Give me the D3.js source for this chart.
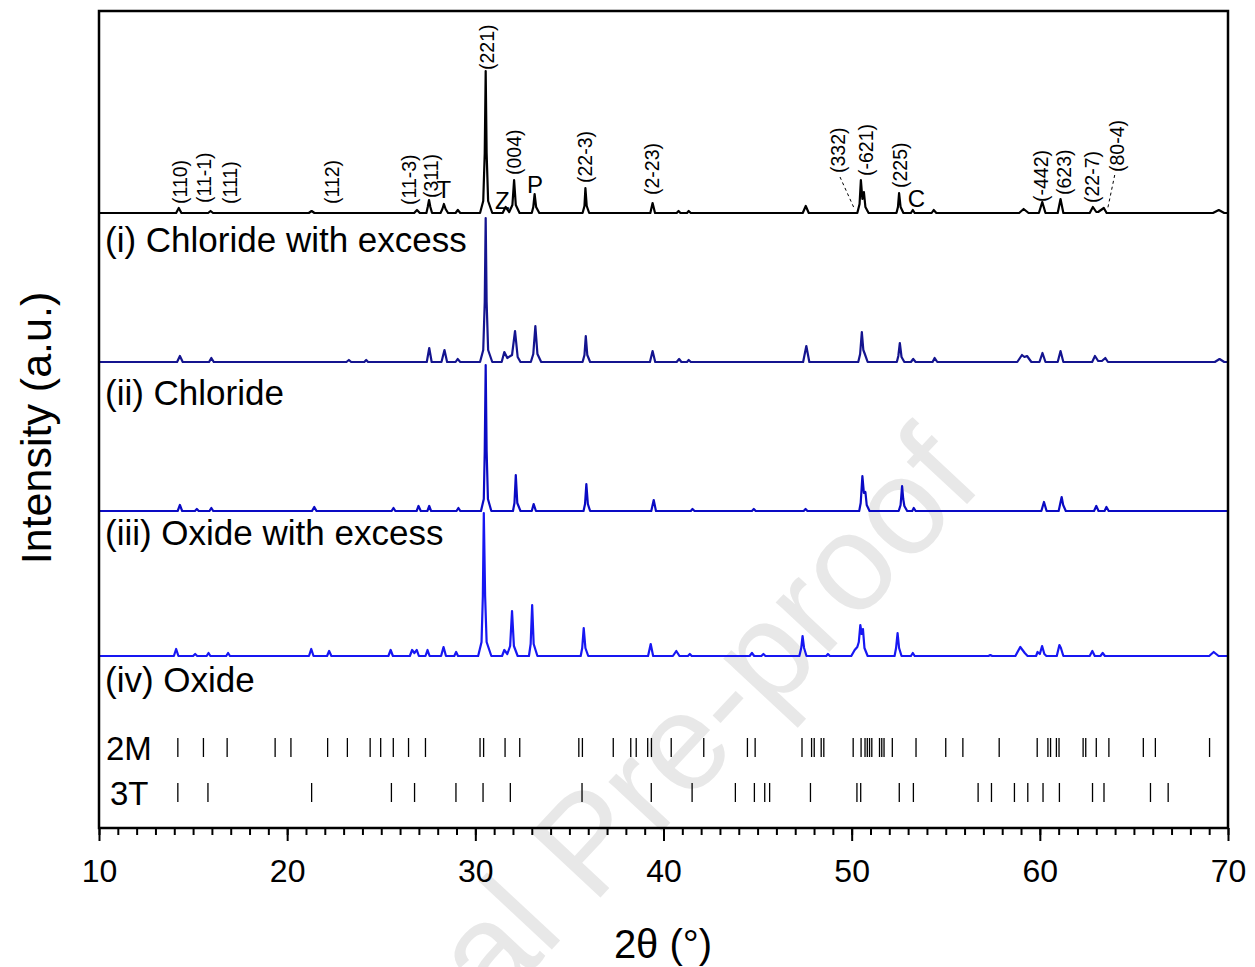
<!DOCTYPE html>
<html>
<head>
<meta charset="utf-8">
<script src="https://d3js.org/d3.v7.min.js"></script>
<style>
  body { margin: 0; background: #fff; }
  svg text { font-family: "Liberation Sans", Arial, sans-serif; fill: #000; }
</style>
</head>
<body>
<script>
// XRD patterns, [2theta, intensity above its own baseline]

var patternA = [[10,0],[14.1,0],[14.24,5],[14.38,0],[15.8,0],[15.93,2],[16.06,0],[21.15,0],[21.3,2],[21.45,0],
  [26.75,0],[26.9,3],[27.05,0],[27.4,0],[27.47,6],[27.54,13],[27.61,6],[27.7,0],[28.15,0],[28.25,4],[28.33,9],[28.42,4],[28.55,0],
  [28.95,0],[29.07,3],[29.2,0],[30.25,0],[30.42,12],[30.5,60],[30.55,142],[30.6,60],[30.68,12],[30.9,0],
  [31.45,0],[31.61,6],[31.8,1],[31.97,8],[32.06,33],[32.15,8],[32.35,0],[33.0,0],[33.08,6],[33.15,19],[33.23,6],[33.4,0],
  [35.7,0],[35.8,7],[35.85,25],[35.92,7],[36.05,0],[39.3,0],[39.42,10],[39.55,0],[40.7,0],[40.8,2],[40.9,0],[41.25,0],[41.34,2],[41.45,0],
  [47.4,0],[47.56,7],[47.72,0],[50.3,0],[50.42,9],[50.49,33],[50.57,14],[50.65,21],[50.73,6],[50.9,0],
  [52.38,0],[52.46,6],[52.52,20],[52.6,6],[52.75,0],[53.15,0],[53.25,3],[53.35,0],[54.25,0],[54.36,3],[54.5,0],
  [58.9,0],[59.14,4],[59.4,0],[59.95,0],[60.13,11],[60.3,0],[60.95,0],[61.1,14],[61.25,0],
  [62.65,0],[62.82,6],[63.0,1],[63.1,1],[63.4,5],[63.55,0],[69.2,0],[69.51,3],[69.8,0],[70,0]];

var patternB = [[10,0],[14.15,0],[14.3,6],[14.45,0],[15.85,0],[15.97,4],[16.1,0],[23.15,0],[23.28,2],[23.4,0],[24.1,0],[24.2,2],[24.3,0],
  [27.42,0],[27.55,14],[27.68,0],[28.2,0],[28.36,12],[28.5,0],[28.95,0],[29.06,3],[29.2,0],
  [30.25,0],[30.42,12],[30.5,60],[30.55,144],[30.6,60],[30.68,12],[30.9,0],
  [31.4,0],[31.54,10],[31.7,4],[31.95,7],[32.11,31],[32.25,5],[32.4,0],[32.95,0],[33.08,8],[33.19,36],[33.3,8],[33.5,0],
  [35.7,0],[35.8,7],[35.87,26],[35.95,7],[36.1,0],[39.28,0],[39.42,11],[39.56,0],
  [40.7,0],[40.83,3],[40.95,0],[41.25,0],[41.34,2],[41.45,0],[47.42,0],[47.59,16],[47.75,0],
  [50.35,0],[50.45,8],[50.54,30],[50.62,12],[50.7,8],[50.85,0],[52.4,0],[52.48,6],[52.56,19],[52.65,5],[52.8,0],
  [53.15,0],[53.27,3],[53.4,0],[54.3,0],[54.41,4],[54.55,0],[58.8,0],[59.05,7],[59.18,5],[59.32,6],[59.55,0],
  [59.98,0],[60.14,9],[60.3,0],[60.95,0],[61.1,11],[61.25,0],[62.78,0],[62.93,6],[63.1,1],[63.3,1],[63.48,4],[63.62,0],
  [69.3,0],[69.55,3],[69.8,0],[70,0]];

var patternC = [[10,0],[14.18,0],[14.3,6],[14.42,0],[15.1,0],[15.2,2],[15.3,0],[15.87,0],[15.97,3],[16.07,0],
  [21.32,0],[21.44,4],[21.56,0],[25.55,0],[25.65,3],[25.75,0],[26.88,0],[26.98,5],[27.1,0],[27.45,0],[27.55,5],[27.65,0],
  [29.0,0],[29.1,3],[29.2,0],[30.3,0],[30.45,12],[30.5,60],[30.55,146],[30.6,60],[30.67,12],[30.85,0],
  [32.0,0],[32.08,8],[32.15,36],[32.23,8],[32.4,0],[33.0,0],[33.1,7],[33.22,0],
  [35.75,0],[35.83,7],[35.9,27],[35.98,7],[36.1,0],[39.35,0],[39.48,11],[39.6,0],
  [41.45,0],[41.54,2],[41.65,0],[44.7,0],[44.8,2],[44.9,0],[47.45,0],[47.55,2],[47.65,0],
  [50.4,0],[50.48,8],[50.57,35],[50.65,18],[50.73,19],[50.8,6],[50.95,0],
  [52.5,0],[52.6,6],[52.68,25],[52.74,12],[52.8,5],[52.95,0],[53.22,0],[53.3,3],[53.4,0],
  [60.08,0],[60.22,9],[60.36,0],[61.0,0],[61.16,14],[61.24,6],[61.38,0],
  [62.88,0],[63.0,5],[63.12,0],[63.44,0],[63.54,4],[63.66,0],[70,0]];

var patternD = [[10,0],[13.98,0],[14.1,7],[14.22,0],[15.0,0],[15.11,2],[15.22,0],[15.72,0],[15.82,3],[15.92,0],
  [16.76,0],[16.86,3],[16.96,0],[21.16,0],[21.28,7],[21.4,0],[22.12,0],[22.23,5],[22.35,0],
  [25.38,0],[25.5,6],[25.62,0],[26.52,0],[26.64,6],[26.76,3],[26.89,6],[27.0,0],[27.35,0],[27.46,6],[27.57,0],
  [28.18,0],[28.31,9],[28.44,0],[28.88,0],[28.98,4],[29.08,0],
  [30.15,0],[30.33,14],[30.4,60],[30.45,143],[30.52,60],[30.6,14],[30.85,0],
  [31.42,0],[31.54,6],[31.7,2],[31.85,10],[31.95,45],[32.05,10],[32.25,0],[32.85,0],[32.94,12],[33.02,51],[33.1,12],[33.3,0],
  [35.6,0],[35.68,8],[35.76,28],[35.85,8],[36.0,0],[39.18,0],[39.32,12],[39.45,0],
  [40.5,0],[40.68,5],[40.85,0],[41.3,0],[41.4,2],[41.5,0],[44.58,0],[44.7,3],[44.82,0],[45.2,0],[45.31,2],[45.42,0],
  [47.22,0],[47.32,8],[47.39,20],[47.47,8],[47.6,0],[48.65,0],[48.74,2],[48.84,0],
  [49.98,0],[50.16,6],[50.3,9],[50.38,14],[50.46,31],[50.53,22],[50.6,27],[50.68,8],[50.85,0],
  [52.28,0],[52.36,8],[52.44,23],[52.52,8],[52.65,0],[53.15,0],[53.25,3],[53.35,0],[57.27,0],[57.37,1],[57.47,0],
  [58.7,0],[58.96,9],[59.2,3],[59.35,0],[59.8,0],[59.88,4],[60.0,2],[60.12,10],[60.24,2],[60.35,0],
  [60.9,0],[61.04,11],[61.12,8],[61.25,0],[62.65,0],[62.79,5],[62.92,0],[63.22,0],[63.34,3],[63.46,0],
  [69.0,0],[69.24,4],[69.5,0],[70,0]];

// vertical stacking offsets (a.u.) and colours
var patterns = [patternA, patternB, patternC, patternD];
var offsets = [615, 466, 317, 172];
var colors = ["#000000", "#14148f", "#0a0ac4", "#1717f2"];

var sampleNames = ["(i) Chloride with excess", "(ii) Chloride", "(iii) Oxide with excess", "(iv) Oxide"];
var sampleNameLevel = [576, 423, 283, 136];

// reference stick positions
var ref2M = [14.19,15.55,16.81,19.36,20.20,22.15,23.20,24.41,24.97,25.64,26.45,27.35,30.25,30.44,31.58,32.36,
  35.50,35.69,37.33,38.26,38.55,39.16,39.36,40.41,42.14,44.46,44.87,47.36,47.87,48.01,48.38,48.52,
  50.08,50.50,50.71,50.83,50.95,51.07,51.48,51.60,51.72,52.16,53.42,55.00,55.91,57.84,59.86,60.43,60.57,
  60.88,61.02,62.30,62.44,63.00,63.67,65.50,66.14,69.02];
var ref3T = [14.19,15.79,21.30,25.54,26.77,28.97,30.41,31.86,35.67,39.35,41.52,43.82,44.83,45.38,45.64,47.81,
  50.28,50.48,52.53,53.28,56.72,57.43,58.65,59.36,60.17,61.04,62.80,63.41,65.88,66.82];

// hkl labels on the top pattern: [text, 2theta, level above baseline]
var hklLabels = [["(110)",14.33,9],["(11-1)",15.57,10],["(111)",16.99,9],["(112)",22.40,9],["(11-3)",26.47,8],
  ["(311)",27.63,15],["(221)",30.64,143],["(004)",32.05,38],["(22-3)",35.85,30],["(2-23)",39.42,18],
  ["(332)",49.27,40],["(-621)",50.79,37],["(225)",52.56,25],["(-442)",60.06,11],["(623)",61.28,18],
  ["(22-7)",62.77,10],["(80-4)",64.10,41]];
var phaseLabels = [["T",28.32,15],["Z",31.44,4],["P",33.17,20],["C",53.44,6]];
var leaders = [[[49.38,36],[50.15,4]], [[63.98,38],[63.59,3]]];

var margin = {top: 11, right: 27, bottom: 139, left: 99},
    width = 1255 - margin.left - margin.right,
    height = 967 - margin.top - margin.bottom;

var svg = d3.select("body").append("svg")
    .attr("width", 1255)
    .attr("height", 967);

// watermark
svg.append("text")
    .attr("transform", "translate(985,485) rotate(-47)")
    .attr("text-anchor", "end")
    .style("font-size", "138px")
    .style("fill", "#e8e8e8")
    .text("Journal Pre-proof");

var g = svg.append("g")
    .attr("transform", "translate(" + margin.left + "," + margin.top + ")");

var x = d3.scaleLinear().domain([10, 70]).range([0, width]);
var y = d3.scaleLinear().domain([0, 817]).range([height, 0]);

// patterns
patterns.forEach(function(p, i) {
  var line = d3.line()
      .x(function(d) { return x(d[0]); })
      .y(function(d) { return y(d[1] + offsets[i]); });
  g.append("path")
      .datum(p)
      .attr("d", line)
      .attr("fill", "none")
      .attr("stroke", colors[i])
      .attr("stroke-width", 2.2)
      .attr("stroke-linejoin", "round");
});

// sample names
g.selectAll(".sname")
    .data(sampleNames)
  .enter().append("text")
    .attr("class", "sname")
    .attr("x", 6)
    .attr("y", function(d, i) { return y(sampleNameLevel[i]); })
    .style("font-size", "35px")
    .text(function(d) { return d; });

// hkl labels
g.selectAll(".hkl")
    .data(hklLabels)
  .enter().append("text")
    .attr("class", "hkl")
    .attr("transform", function(d) {
      return "translate(" + x(d[1]) + "," + y(d[2] + offsets[0]) + ") rotate(-90)";
    })
    .attr("dy", "0.35em")
    .style("font-size", "19.5px")
    .text(function(d) { return d[0]; });

g.selectAll(".phase")
    .data(phaseLabels)
  .enter().append("text")
    .attr("class", "phase")
    .attr("x", function(d) { return x(d[1]); })
    .attr("y", function(d) { return y(d[2] + offsets[0]); })
    .attr("text-anchor", "middle")
    .style("font-size", "24px")
    .text(function(d) { return d[0]; });

g.selectAll(".leader")
    .data(leaders)
  .enter().append("line")
    .attr("x1", function(d) { return x(d[0][0]); })
    .attr("y1", function(d) { return y(d[0][1] + offsets[0]); })
    .attr("x2", function(d) { return x(d[1][0]); })
    .attr("y2", function(d) { return y(d[1][1] + offsets[0]); })
    .attr("stroke", "#000")
    .attr("stroke-width", 1)
    .attr("stroke-dasharray", "3,3");

// reference sticks
function sticks(data, lo, hi) {
  g.append("g").selectAll("line")
      .data(data)
    .enter().append("line")
      .attr("x1", function(d) { return x(d); })
      .attr("x2", function(d) { return x(d); })
      .attr("y1", y(lo))
      .attr("y2", y(hi))
      .attr("stroke", "#000")
      .attr("stroke-width", 1.3);
}
sticks(ref2M, 71, 90);
sticks(ref3T, 26, 45);

g.append("text").attr("x", 7).attr("y", y(68)).style("font-size", "33px").text("2M");
g.append("text").attr("x", 11).attr("y", y(23)).style("font-size", "33px").text("3T");

// x axis: minor and major ticks
var minor = g.append("g")
    .attr("transform", "translate(0," + height + ")")
    .call(d3.axisBottom(x).tickValues(d3.range(10, 71, 1)).tickSize(7).tickFormat(""));
var major = g.append("g")
    .attr("transform", "translate(0," + height + ")")
    .call(d3.axisBottom(x).tickValues(d3.range(10, 71, 10)).tickSize(13).tickPadding(18));
minor.select(".domain").remove();
major.select(".domain").remove();
minor.selectAll("line").attr("stroke-width", 2);
major.selectAll("line").attr("stroke-width", 2);
major.selectAll("text")
    .style("font-size", "32px")
    .style("font-family", "Liberation Sans, Arial, sans-serif");

// frame
g.append("rect")
    .attr("width", width)
    .attr("height", height)
    .attr("fill", "none")
    .attr("stroke", "#000")
    .attr("stroke-width", 2.5);

// axis titles
svg.append("text")
    .attr("x", 663)
    .attr("y", 958)
    .attr("text-anchor", "middle")
    .style("font-size", "40px")
    .text("2\u03b8 (\u00b0)");

svg.append("text")
    .attr("transform", "translate(36,428) rotate(-90)")
    .attr("dy", "0.35em")
    .attr("text-anchor", "middle")
    .style("font-size", "43px")
    .text("Intensity (a.u.)");
</script>
</body>
</html>
